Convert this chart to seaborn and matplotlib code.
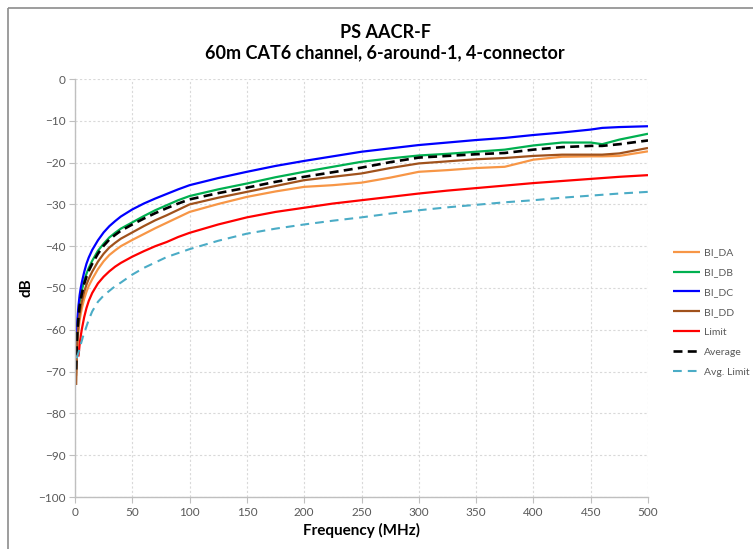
import matplotlib
matplotlib.use("Agg")
import matplotlib.pyplot as plt
import seaborn as sns
from matplotlib.lines import Line2D

# ---------------- data ----------------
freq = [1, 1.5, 2, 3, 4, 5, 6, 8, 10, 12, 15, 20, 25, 30, 35, 40, 50, 60, 70, 80,
        90, 100, 125, 150, 175, 200, 225, 250, 275, 300, 325, 350, 375, 400, 425,
        450, 460, 475, 500]

bi_da = [-71.0, -66.5, -63.8, -60.3, -57.8, -56.2, -54.8, -52.6, -50.9, -49.5,
         -47.9, -45.5, -43.6, -42.1, -41.0, -40.0, -38.5, -37.1, -35.7, -34.4,
         -33.1, -31.8, -29.9, -28.2, -26.9, -25.8, -25.4, -24.8, -23.6, -22.2,
         -21.8, -21.3, -21.0, -19.3, -18.6, -18.5, -18.5, -18.4, -17.3]
bi_db = [-66.5, -62.2, -59.5, -56.0, -53.5, -51.9, -50.5, -48.3, -46.6, -45.2,
         -43.5, -41.1, -39.4, -37.9, -36.8, -35.8, -34.3, -32.8, -31.4, -30.2,
         -29.0, -28.0, -26.4, -25.0, -23.5, -22.2, -21.0, -19.8, -19.0, -18.3,
         -17.9, -17.4, -16.9, -15.9, -15.2, -15.2, -15.6, -14.5, -13.1]
bi_dc = [-64.8, -60.5, -57.7, -54.3, -51.8, -50.0, -48.6, -46.2, -44.2, -42.7,
         -40.9, -38.6, -36.7, -35.2, -34.0, -32.9, -31.2, -29.8, -28.6, -27.5,
         -26.4, -25.4, -23.7, -22.2, -20.8, -19.6, -18.5, -17.4, -16.6, -15.8,
         -15.2, -14.6, -14.1, -13.4, -12.8, -12.1, -11.7, -11.5, -11.3]
bi_dd = [-73.2, -66.0, -62.7, -58.9, -56.3, -54.6, -53.2, -50.9, -49.2, -47.8,
         -46.1, -43.7, -41.8, -40.3, -39.2, -38.2, -36.7, -35.2, -33.8, -32.6,
         -31.3, -30.0, -28.4, -27.0, -25.6, -24.2, -23.4, -22.6, -21.3, -20.2,
         -19.7, -19.2, -18.9, -18.4, -18.1, -18.1, -18.1, -17.8, -16.5]
average = [-69.5, -63.6, -60.6, -56.9, -54.3, -52.7, -51.3, -49.0, -47.3, -45.9,
           -44.2, -41.8, -39.9, -38.4, -37.3, -36.3, -34.8, -33.4, -32.1, -30.9,
           -29.8, -28.8, -27.3, -26.0, -24.6, -23.4, -22.3, -21.2, -19.9, -18.8,
           -18.4, -18.0, -17.7, -16.9, -16.3, -16.0, -16.0, -15.6, -14.7]

limit_freq = [3, 4, 5, 6, 8, 10, 12, 15, 20, 25, 30, 35, 40, 50, 60, 70, 80, 90,
              100, 125, 150, 175, 200, 225, 250, 275, 300, 325, 350, 375, 400,
              425, 450, 475, 500]
limit = [-66.4, -63.6, -61.5, -59.8, -57.0, -54.8, -53.1, -51.2, -48.9, -47.3,
         -46.0, -44.9, -44.0, -42.5, -41.2, -40.0, -39.0, -37.8, -36.8, -34.8,
         -33.1, -31.8, -30.8, -29.8, -29.0, -28.2, -27.4, -26.7, -26.1, -25.5,
         -24.9, -24.4, -23.9, -23.4, -23.0]

avg_limit_freq = [1.5, 3, 5, 7, 9, 12, 15, 20, 25, 33, 40, 50, 60, 80, 100, 125,
                  150, 175, 200, 225, 250, 275, 300, 325, 350, 375, 400, 425, 450,
                  475, 500]
avg_limit = [-66.8, -65.5, -63.5, -61.6, -60.0, -57.6, -55.6, -53.3, -51.8, -50.0,
             -48.7, -46.8, -45.2, -42.6, -40.7, -38.7, -37.0, -35.8, -34.8, -33.9,
             -33.1, -32.2, -31.4, -30.7, -30.1, -29.5, -29.0, -28.4, -27.9, -27.4,
             -27.0]

x_ticks = [0, 50, 100, 150, 200, 250, 300, 350, 400, 450, 500]
y_ticks = [0, -10, -20, -30, -40, -50, -60, -70, -80, -90, -100]

title_lines = ["PS AACR-F", "60m CAT6 channel, 6-around-1, 4-connector"]
x_label = "Frequency (MHz)"
y_label = "dB"

# ---------------- style ----------------
sns.set_theme(style="white")
plt.rcParams["font.family"] = ["Lato", "DejaVu Sans"]
plt.rcParams["lines.solid_capstyle"] = "butt"

fig = plt.figure(figsize=(7.53, 5.49), dpi=100)
ax = fig.add_axes([75 / 753, 1 - 497 / 549, 573 / 753, 418 / 549])

series = [
    (freq, bi_da, "BI_DA", "#F79646", 1.6, None),
    (freq, bi_db, "BI_DB", "#00B050", 1.6, None),
    (freq, bi_dc, "BI_DC", "#0000FF", 1.6, None),
    (freq, bi_dd, "BI_DD", "#A0521C", 1.6, None),
    (limit_freq, limit, "Limit", "#FF0000", 1.6, None),
    (freq, average, "Average", "#000000", 1.9, (3.4, 2.0)),
    (avg_limit_freq, avg_limit, "Avg. Limit", "#4BACC6", 1.5, (4.2, 2.9)),
]
for xs, ys, name, col, lw, dash in series:
    sns.lineplot(x=xs, y=ys, ax=ax, color=col, linewidth=lw, label=name,
                 sort=False, estimator=None,
                 dashes=dash if dash is not None else (None, None))

ax.set_xlim(0, 500)
ax.set_ylim(-100, 0)
ax.set_xticks(x_ticks)
ax.set_yticks(y_ticks)
ax.grid(True, color="#D9D9D9", linestyle=(0, (2, 2)), linewidth=0.8)
for s in ["top", "right"]:
    ax.spines[s].set_visible(False)
for s in ["left", "bottom"]:
    ax.spines[s].set_color("#BFBFBF")
    ax.spines[s].set_linewidth(1.0)
ax.tick_params(axis="both", which="major", length=4, width=0.8, color="#BFBFBF",
               labelsize=8.5, labelcolor="#595959", direction="out",
               left=True, bottom=True, pad=3)

ax.set_xlabel(x_label, fontsize=11, fontweight="bold", color="#000000", labelpad=4)
ax.set_ylabel(y_label, fontsize=11, fontweight="bold", color="#000000", labelpad=3)

fig.text(385 / 753, 1 - 32 / 549, title_lines[0], ha="center", va="center",
         fontsize=13, fontweight="bold", color="#000000")
fig.text(385 / 753, 1 - 53 / 549, title_lines[1], ha="center", va="center",
         fontsize=13, fontweight="bold", color="#000000")

leg = ax.legend(loc="upper left", bbox_to_anchor=(673 / 753, 1 - 248 / 549),
                bbox_transform=fig.transFigure, frameon=False, fontsize=7.5,
                handlelength=2.6, handletextpad=0.35, labelspacing=1.02,
                borderaxespad=0, borderpad=0)
for t in leg.get_texts():
    t.set_color("#595959")

# chart-area frame (visible on the left and top edges)
fig.add_artist(Line2D([8 / 753, 8 / 753], [0, 1 - 8 / 549], color="#8C8C8C",
                      linewidth=1.2, transform=fig.transFigure))
fig.add_artist(Line2D([8 / 753, 1], [1 - 8 / 549, 1 - 8 / 549], color="#8C8C8C",
                      linewidth=1.2, transform=fig.transFigure))

fig.savefig("out.png", dpi=100)
